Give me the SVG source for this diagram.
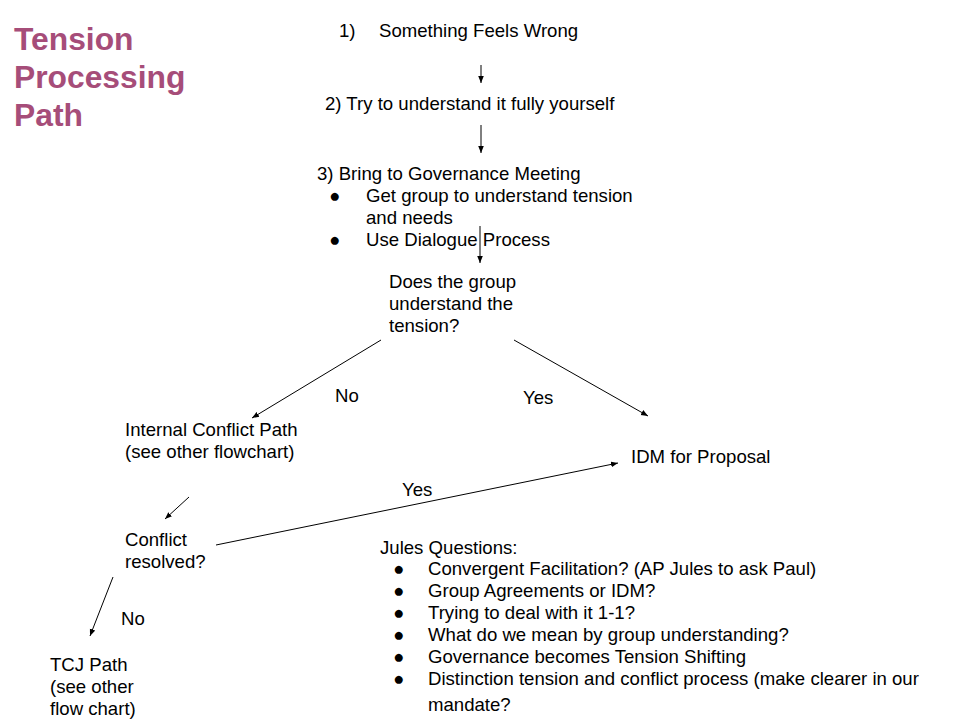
<svg xmlns="http://www.w3.org/2000/svg" width="960" height="720" viewBox="0 0 960 720">
<defs>
<marker id="ah" viewBox="0 0 10 10" refX="10" refY="5" markerWidth="7" markerHeight="7" markerUnits="userSpaceOnUse" orient="auto"><path d="M0,1 L10,5 L0,9 z" fill="#000"/></marker>
<style>
text{font-family:"Liberation Sans",Arial,sans-serif;font-size:18.6px;fill:#000}
.title{font-size:31.8px;font-weight:bold;fill:#a64d79}
.c line{stroke:#000;stroke-width:1;marker-end:url(#ah)}
</style>
</defs>
<rect width="960" height="720" fill="#fff"/>
<g id="title"><text class="title" x="14" y="50">Tension</text><text class="title" x="14" y="88">Processing</text><text class="title" x="14" y="126">Path</text></g>
<g id="n1"><text x="339" y="37">1)</text><text x="379" y="37">Something Feels Wrong</text></g>
<g id="n2"><text x="325" y="110">2) Try to understand it fully yourself</text></g>
<g id="n3"><text x="317" y="180">3) Bring to Governance Meeting</text>
<text x="329" y="202">●</text><text x="366" y="202">Get group to understand tension</text><text x="366" y="224">and needs</text>
<text x="329" y="246">●</text><text x="366" y="246">Use Dialogue Process</text></g>
<g id="n4"><text x="389" y="288">Does the group</text><text x="389" y="310">understand the</text><text x="389" y="332">tension?</text></g>
<g id="n5"><text x="125" y="436">Internal Conflict Path</text><text x="125" y="458">(see other flowchart)</text></g>
<g id="n6"><text x="631" y="463">IDM for Proposal</text></g>
<g id="n7"><text x="125" y="546">Conflict</text><text x="125" y="568">resolved?</text></g>
<g id="n8"><text x="50" y="671">TCJ Path</text><text x="50" y="693">(see other</text><text x="50" y="715">flow chart)</text></g>
<g id="notes"><text x="380" y="554">Jules Questions:</text>
<text x="393" y="575">●</text><text x="428" y="575">Convergent Facilitation? (AP Jules to ask Paul)</text>
<text x="393" y="597">●</text><text x="428" y="597">Group Agreements or IDM?</text>
<text x="393" y="619">●</text><text x="428" y="619">Trying to deal with it 1-1?</text>
<text x="393" y="641">●</text><text x="428" y="641">What do we mean by group understanding?</text>
<text x="393" y="663">●</text><text x="428" y="663">Governance becomes Tension Shifting</text>
<text x="393" y="685">●</text><text x="428" y="685">Distinction tension and conflict process (make clearer in our</text>
<text x="428" y="711">mandate?</text></g>
<g id="connectors" class="c">
<line x1="481" y1="65" x2="481" y2="83"/>
<line x1="481" y1="125" x2="481" y2="153"/>
<line x1="480" y1="226" x2="480" y2="263"/>
<line x1="381" y1="340" x2="252" y2="418"/>
<line x1="514" y1="340" x2="648" y2="416"/>
<line x1="189" y1="497" x2="165" y2="519"/>
<line x1="216" y1="545" x2="618" y2="463"/>
<line x1="113" y1="577" x2="90" y2="636"/>
<text x="335" y="402">No</text>
<text x="523" y="404">Yes</text>
<text x="402" y="496">Yes</text>
<text x="121" y="625">No</text>
</g>
</svg>
